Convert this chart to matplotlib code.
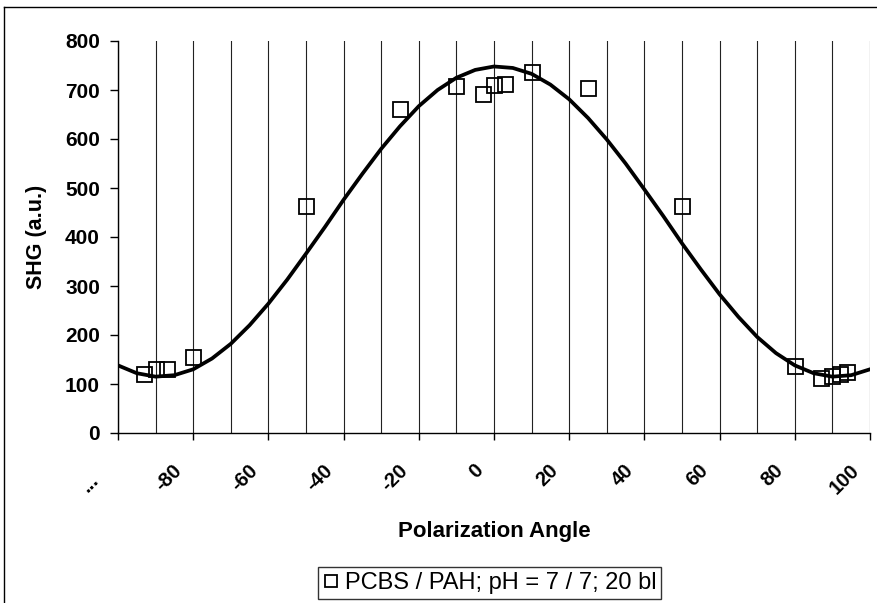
import matplotlib
matplotlib.use('Agg')
import matplotlib.pyplot as plt
from matplotlib.transforms import ScaledTranslation
from matplotlib.lines import Line2D

plt.rcParams['font.family'] = ['Liberation Sans', 'DejaVu Sans']

# measured points
angle = [-93, -90, -87, -80, -50, -25, -10, -3, 0, 3, 10, 25, 50, 80, 87, 90, 92, 94]
shg = [120, 130, 130, 156, 463, 661, 708, 692, 710, 712, 737, 705, 463, 137, 112, 117, 120, 124]

# fitted curve, every 5 degrees
fit_angle = [-100, -95, -90, -85, -80, -75, -70, -65, -60, -55, -50, -45, -40, -35,
             -30, -25, -20, -15, -10, -5, 0, 5, 10, 15, 20, 25, 30, 35, 40, 45,
             50, 55, 60, 65, 70, 75, 80, 85, 90, 95, 100]
fit_shg = [138, 122, 115, 118, 130, 152, 182, 220, 264, 313, 366, 420, 476, 529,
           580, 626, 667, 700, 725, 741, 748, 745, 733, 711, 681, 643, 599, 550, 497, 443,
           387, 334, 283, 237, 196, 163, 138, 122, 115, 118, 130]

xtick_vals = [-100, -80, -60, -40, -20, 0, 20, 40, 60, 80, 100]
xtick_labels = ['...', '-80', '-60', '-40', '-20', '0', '20', '40', '60', '80', '100']
xgrid_vals = [-90, -70, -50, -30, -10, 10, 30, 50, 70, 90]
ytick_vals = [0, 100, 200, 300, 400, 500, 600, 700, 800]

series_label = 'PCBS / PAH; pH = 7 / 7; 20 bl'

W, H = 878, 603
fig = plt.figure(figsize=(W / 100, H / 100), dpi=100)
ax = fig.add_axes([118 / W, 1 - 433 / H, (870 - 118) / W, (433 - 41) / H])

ax.plot(angle, shg, ls='none', marker='s', ms=10.8, mfc='none', mec='black',
        mew=1.3, zorder=3, label=series_label)
ax.plot(fit_angle, fit_shg, color='black', lw=2.7, zorder=4,
        solid_joinstyle='round')

ax.set_xlim(-100, 100)
ax.set_ylim(0, 800)
for s in ['top', 'right']:
    ax.spines[s].set_visible(False)
for s in ['left', 'bottom']:
    ax.spines[s].set_color('black')
    ax.spines[s].set_linewidth(1.0)

ax.set_xticks(xtick_vals)
ax.set_xticklabels(xtick_labels, rotation=45, ha='right', va='center',
                   rotation_mode='anchor', fontsize=14.5, fontweight='bold')
ax.set_xticks(xgrid_vals, minor=True)
ax.tick_params(axis='x', which='major', length=5, width=1, pad=20, direction='out')
ax.tick_params(axis='x', which='minor', length=0)
ax.grid(axis='x', which='both', color='#222222', lw=0.8)
ax.set_axisbelow(True)

ax.set_yticks(ytick_vals)
ax.tick_params(axis='y', length=6, width=1, pad=7, labelsize=15)
for lbl in ax.get_yticklabels():
    lbl.set_fontweight('bold')

for i, lbl in enumerate(ax.get_xticklabels()):
    dx, dy = -14, 0
    if i == 0:
        dx, dy = -22, -9
    lbl.set_transform(lbl.get_transform() + ScaledTranslation(dx / 100, dy / 100, fig.dpi_scale_trans))

fig.text(37 / W, 1 - 237 / H, 'SHG (a.u.)', rotation=90, ha='center', va='center',
         fontsize=15.5, fontweight='bold')
fig.text(494 / W, 1 - 532 / H, 'Polarization Angle', ha='center', va='center',
         fontsize=16, fontweight='bold')

leg = fig.legend(loc='center', bbox_to_anchor=(489.5 / W, 1 - 583 / H), frameon=True,
                 fancybox=False, edgecolor='black', fontsize=17, handlelength=0.7,
                 handletextpad=0.25, borderpad=0.2, borderaxespad=0, markerscale=0.8)
leg.get_frame().set_linewidth(1.0)

fig.add_artist(Line2D([4 / W, 4 / W], [0, 1 - 7 / H], transform=fig.transFigure,
                      color='black', lw=1))
fig.add_artist(Line2D([4 / W, 1], [1 - 7 / H, 1 - 7 / H], transform=fig.transFigure,
                      color='black', lw=1))

fig.savefig('out.png', dpi=100)
